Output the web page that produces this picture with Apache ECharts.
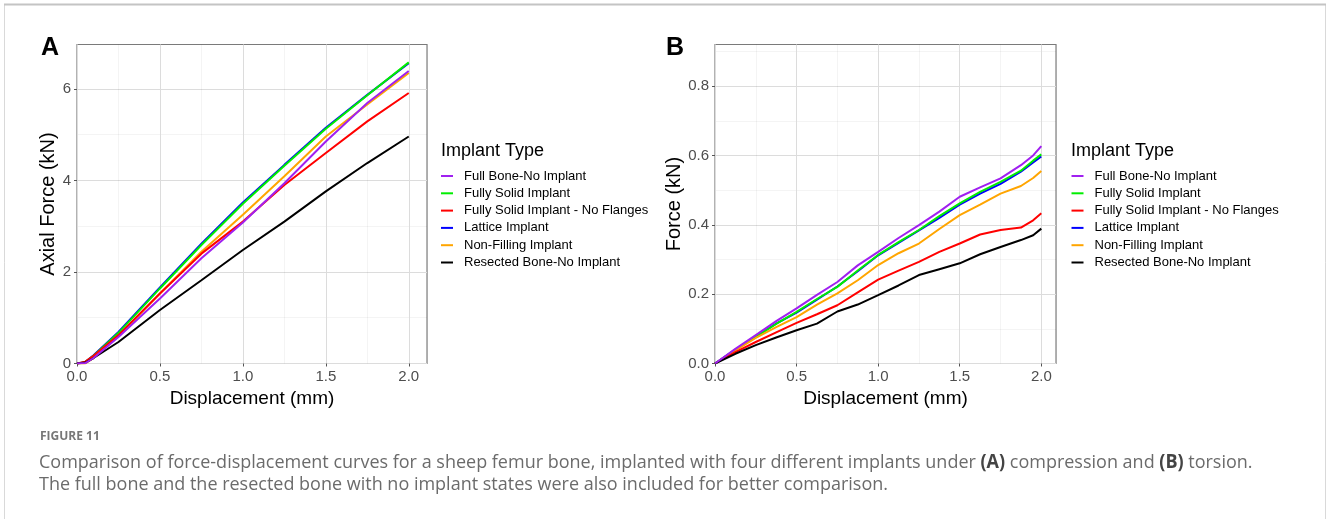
<!DOCTYPE html>
<html><head><meta charset="utf-8">
<script src="https://cdn.jsdelivr.net/npm/echarts@6/dist/echarts.min.js"></script>
<style>html,body{margin:0;padding:0;background:#fff}#c{width:1328px;height:519px}</style>
</head><body><div id="c"></div>
<script>
// ---------- data ----------
const seriesNames = ['Full Bone-No Implant','Fully Solid Implant','Fully Solid Implant - No Flanges','Lattice Implant','Non-Filling Implant','Resected Bone-No Implant'];
const seriesColors = ['#a020f0','#00ee00','#ff0000','#0000ff','#ffa500','#000000'];

// Panel A: compression (Axial Force, kN)
const dispA = [0, 0.05, 0.1, 0.25, 0.5, 0.75, 1.0, 1.25, 1.5, 1.75, 2.0];
const fullBoneA   = [0, 0.01, 0.12, 0.58, 1.42, 2.30, 3.08, 3.94, 4.85, 5.69, 6.39];
const fullySolidA = [0, 0.03, 0.17, 0.67, 1.64, 2.59, 3.49, 4.32, 5.13, 5.86, 6.58];
const noFlangesA  = [0, 0.04, 0.17, 0.62, 1.53, 2.40, 3.10, 3.90, 4.60, 5.29, 5.91];
const latticeA    = [0, 0.03, 0.18, 0.69, 1.66, 2.62, 3.52, 4.34, 5.15, 5.87, 6.56];
const nonFillingA = [0, 0.00, 0.12, 0.60, 1.53, 2.44, 3.25, 4.09, 4.96, 5.66, 6.35];
const resectedA   = [0, 0.02, 0.12, 0.47, 1.17, 1.82, 2.48, 3.10, 3.76, 4.38, 4.96];

// Panel B: torsion (Force, kN)
const dispB = [0, 0.125, 0.25, 0.375, 0.5, 0.625, 0.75, 0.875, 1.0, 1.125, 1.25, 1.375, 1.5, 1.625, 1.75, 1.875, 1.95, 2.0];
const fullBoneB   = [0, 0.042, 0.082, 0.122, 0.159, 0.198, 0.235, 0.283, 0.322, 0.362, 0.399, 0.438, 0.481, 0.508, 0.534, 0.572, 0.600, 0.627];
const fullySolidB = [0, 0.040, 0.077, 0.114, 0.149, 0.186, 0.221, 0.268, 0.313, 0.350, 0.385, 0.425, 0.462, 0.495, 0.524, 0.556, 0.585, 0.603];
const noFlangesB  = [0, 0.033, 0.062, 0.090, 0.117, 0.142, 0.168, 0.205, 0.242, 0.268, 0.293, 0.322, 0.346, 0.372, 0.385, 0.392, 0.413, 0.433];
const latticeB    = [0, 0.040, 0.078, 0.115, 0.147, 0.184, 0.222, 0.266, 0.312, 0.348, 0.384, 0.420, 0.458, 0.490, 0.518, 0.553, 0.580, 0.597];
const nonFillingB = [0, 0.038, 0.074, 0.105, 0.134, 0.170, 0.202, 0.240, 0.284, 0.318, 0.346, 0.388, 0.428, 0.458, 0.490, 0.512, 0.535, 0.555];
const resectedB   = [0, 0.028, 0.053, 0.075, 0.096, 0.115, 0.150, 0.170, 0.197, 0.225, 0.255, 0.272, 0.289, 0.315, 0.336, 0.356, 0.370, 0.389];

const xTicks = [0, 0.5, 1.0, 1.5, 2.0];
const yTicksA = [0, 2, 4, 6];
const yTicksB = [0, 0.2, 0.4, 0.6, 0.8];

const legendTitle = 'Implant Type';
const captionHead = 'FIGURE 11';
const captionLine1 = 'Comparison of force-displacement curves for a sheep femur bone, implanted with four different implants under {b|(A)} compression and {b|(B)} torsion.';
const captionLine2 = 'The full bone and the resected bone with no implant states were also included for better comparison.';

// ---------- build ----------
const FONT = 'Liberation Sans, Arial, sans-serif';
const pairs = (xs, ys) => xs.map((x, i) => [x, ys[i]]);
const valsA = [fullBoneA, fullySolidA, noFlangesA, latticeA, nonFillingA, resectedA];
const valsB = [fullBoneB, fullySolidB, noFlangesB, latticeB, nonFillingB, resectedB];
const drawOrder = [3, 1, 4, 2, 5, 0];

const grids = [
  {left: 77, top: 44.5, width: 350, height: 319},
  {left: 715, top: 44.5, width: 341, height: 319}
];

function majorX(gi, max) {
  return {type:'value', gridIndex: gi, min: 0, max: max, interval: 0.5,
    axisLine:{show:false},
    axisTick:{show:true, length:3, lineStyle:{color:'#555', width:1}, customValues: xTicks},
    axisLabel:{show:true, color:'#4d4d4d', fontSize:15, fontFamily:FONT, margin:6, customValues: xTicks,
      formatter: v => v.toFixed(1)},
    splitLine:{show:true, lineStyle:{color:'#e6e6e6', width:1}},
    name:'Displacement (mm)', nameLocation:'middle', nameGap:23,
    nameTextStyle:{color:'#000', fontSize:19, fontFamily:FONT}};
}
function minorX(gi, max) {
  return {type:'value', gridIndex: gi, min:0, max:max, interval:0.25, position:'bottom',
    axisLine:{show:false}, axisTick:{show:false}, axisLabel:{show:false},
    splitLine:{show:true, lineStyle:{color:'rgba(0,0,0,0.045)', width:1}}};
}
function majorY(gi, max, step, ticks, fmt, name, gap) {
  return {type:'value', gridIndex: gi, min:0, max:max, interval:step,
    axisLine:{show:false},
    axisTick:{show:true, length:3, lineStyle:{color:'#555', width:1}, customValues: ticks},
    axisLabel:{show:true, color:'#4d4d4d', fontSize:15, fontFamily:FONT, margin:6, customValues: ticks, formatter: fmt},
    splitLine:{show:true, lineStyle:{color:'#e6e6e6', width:1}},
    name:name, nameLocation:'middle', nameGap:gap,
    nameTextStyle:{color:'#000', fontSize:20, fontFamily:FONT}};
}
function minorY(gi, max, step) {
  return {type:'value', gridIndex: gi, min:0, max:max, interval:step, position:'left',
    axisLine:{show:false}, axisTick:{show:false}, axisLabel:{show:false},
    splitLine:{show:true, lineStyle:{color:'rgba(0,0,0,0.045)', width:1}}};
}

const series = [];
[[dispA, valsA, 0], [dispB, valsB, 2]].forEach(([xs, vals, ax], p) => {
  drawOrder.forEach(k => {
    series.push({type:'line', name: seriesNames[k], xAxisIndex: ax, yAxisIndex: ax,
      data: pairs(xs, vals[k]), showSymbol:false, symbol:'none', smooth:false,
      lineStyle:{color: seriesColors[k], width:2}, itemStyle:{color: seriesColors[k]},
      silent:true});
  });
});

function legend(left) {
  return {orient:'vertical', left:left, top:168.5, padding:0, data: seriesNames,
    icon:'rect', itemWidth:12, itemHeight:2, itemGap:2.3,
    selectedMode:false,
    textStyle:{color:'#000', fontSize:13, fontFamily:FONT, lineHeight:15, padding:[0,0,0,6]}};
}

const chart = echarts.init(document.getElementById('c'), null, {renderer:'canvas'});
chart.setOption({
  animation:false,
  backgroundColor:'#fff',
  grid: grids.map(g => Object.assign({show:true, borderColor:'#808080', borderWidth:1.2, backgroundColor:'#fff', containLabel:false, outerBoundsMode:'none'}, g)),
  xAxis: [majorX(0, 2.11), minorX(0, 2.11), majorX(1, 2.09), minorX(1, 2.09)],
  yAxis: [majorY(0, 6.97, 2, yTicksA, v => String(v), 'Axial Force (kN)', 13), minorY(0, 6.97, 1),
          majorY(1, 0.92, 0.2, yTicksB, v => v.toFixed(1), 'Force (kN)', 24), minorY(1, 0.92, 0.1)],
  legend: [legend(441), legend(1071.5)],
  series: series,
  graphic: [
    {type:'rect', shape:{x:4.5, y:4.5, width:1321, height:600}, style:{fill:'none', stroke:'#d9d9d9', lineWidth:1}, silent:true},
    {type:'line', shape:{x1:4, y1:4.5, x2:1326, y2:4.5}, style:{stroke:'#c4c4c4', lineWidth:2}, silent:true},
    {type:'text', x:41, y:36, style:{text:'A', font:'bold 25px ' + FONT, fill:'#000'}},
    {type:'text', x:666, y:36, style:{text:'B', font:'bold 25px ' + FONT, fill:'#000'}},
    {type:'text', x:441, y:142, style:{text:legendTitle, font:'18px ' + FONT, fill:'#000'}},
    {type:'text', x:1071, y:142, style:{text:legendTitle, font:'18px ' + FONT, fill:'#000'}},
    {type:'text', x:40, y:431, style:{text:captionHead, font:'bold 12px Open Sans', fill:'#777'}},
    {type:'text', x:39, y:453, scaleX:0.947, style:{text:captionLine1, font:'19px Open Sans', fill:'#6b6b6b',
      rich:{b:{fontWeight:'bold', fontSize:19, fontFamily:'Open Sans', fill:'#444'}}}},
    {type:'text', x:39, y:475, scaleX:0.947, style:{text:captionLine2, font:'19px Open Sans', fill:'#6b6b6b'}}
  ]
});
</script>
</body></html>
